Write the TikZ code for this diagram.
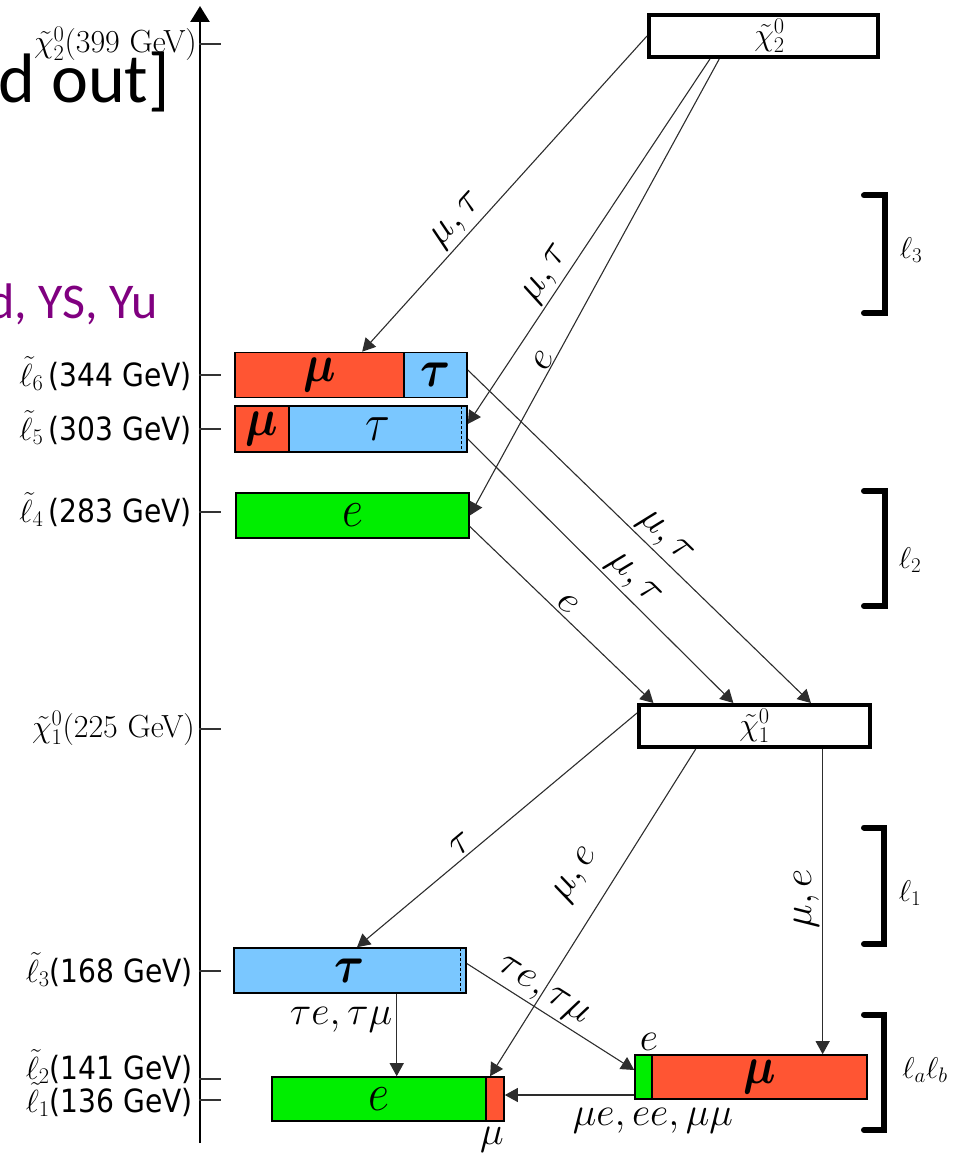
\RequirePackage{fix-cm}
\documentclass[tikz,border=0pt]{standalone}
\usepackage{amsmath}
\usepackage{fontspec}
\usetikzlibrary{arrows.meta,calc}
\newfontfamily\slidefont{Carlito}
\newfontfamily\gevfont[FakeStretch=0.88]{DejaVu Sans}
\definecolor{muRed}{RGB}{255,85,51}
\definecolor{tauBlue}{RGB}{122,199,255}
\definecolor{eGreen}{RGB}{0,238,0}
\definecolor{slidePurple}{RGB}{128,0,128}
\definecolor{wire}{RGB}{45,45,45}
\newcommand{\atsize}[1]{\fontsize{#1}{#1}\selectfont}
\newcommand{\tallglyph}[1]{\scalebox{1}[1.15]{#1}}
\begin{document}
\begin{tikzpicture}[x=1pt,y=-1pt,
  conn/.style={draw=wire,line width=1.1pt,-{Triangle[length=13pt,width=14pt]}},
  part/.style={draw=black,line width=1.6pt,inner sep=0pt,minimum height=45pt,font=\atsize{46}},
  neut/.style={draw=black,fill=white,line width=4pt,inner sep=0pt,minimum height=42pt,font=\atsize{32}},
  levtick/.style={draw=black!80,line width=1.2pt},
  lev/.style={anchor=base east,inner sep=0pt,font=\atsize{32}},
  chan/.style={font=\atsize{40},sloped,pos=#1},
  brk/.style={line width=6pt,line cap=round},
  brklab/.style={font=\atsize{30}},
  lbl/.style={font=\atsize{40},inner sep=0pt},
  dashmark/.style={dash pattern=on 3pt off 2pt,line width=0.8pt}
]
\useasboundingbox (0,0) rectangle (960,1155);

% slide text lying behind the figure
\node[anchor=base east,inner sep=0pt,font=\slidefont\atsize{70}] (slideA) at (170,103) {d out]};
\node[anchor=base east,inner sep=0pt,font=\slidefont\atsize{50},text=slidePurple] (slideB) at (158,318) {d, YS, Yu};

% mass axis
\coordinate (axbot) at (200,1143);
\coordinate (axtop) at (200,6);
\draw[line width=2.5pt,-{Triangle[length=16pt,width=19pt]}] (axbot) -- (axtop);
\foreach \yy in {44,375,429,512,729,971,1079,1100}
  \draw[levtick] (199,\yy) -- (221,\yy);

% level labels
\node[lev] (t399) at (197,53) {$\tilde\chi^0_2$(399 GeV)};
\node[lev] (t344) at (192,386) {$\tilde\ell_6\,${\gevfont(344 GeV)}};
\node[lev] (t303) at (192,440) {$\tilde\ell_5\,${\gevfont(303 GeV)}};
\node[lev] (t283) at (192,522) {$\tilde\ell_4\,${\gevfont(283 GeV)}};
\node[lev] (t225) at (195,737) {$\tilde\chi^0_1$(225 GeV)};
\node[lev] (t168) at (193,982) {$\tilde\ell_3${\gevfont(168 GeV)}};
\node[lev] (t141) at (193,1079) {$\tilde\ell_2${\gevfont(141 GeV)}};
\node[lev] (t136) at (193,1112) {$\tilde\ell_1${\gevfont(136 GeV)}};

% neutralinos
\node[neut,minimum width=229pt] (chi2) at (763.5,36) {\hspace*{12pt}$\tilde\chi^0_2$};
\node[neut,minimum width=231pt] (chi1) at (754.5,726) {$\tilde\chi^0_1$};

% sleptons with their flavour content
\node[part,fill=muRed,minimum width=169pt] (l6mu) at (319.5,375) {\tallglyph{$\boldsymbol{\mu}$}};
\node[part,fill=tauBlue,minimum width=63pt] (l6tau) at (435.5,375) {\tallglyph{$\boldsymbol{\tau}$}};
\node[part,fill=muRed,minimum width=54pt,minimum height=46pt] (l5mu) at (262,429) {\tallglyph{$\boldsymbol{\mu}$}};
\node[part,fill=tauBlue,minimum width=178pt,minimum height=46pt] (l5tau) at (378,429) {\tallglyph{$\tau$}};
\draw[dashmark] ($(l5tau.north east)+(-6,1)$) -- ($(l5tau.south east)+(-6,-1)$);
\node[part,fill=eGreen,minimum width=233pt] (l4) at (352.5,515.5) {\tallglyph{$e$}};
\node[part,fill=tauBlue,minimum width=232pt] (l3) at (350,970.5) {\tallglyph{$\boldsymbol{\tau}$}};
\draw[dashmark] ($(l3.north east)+(-6,1)$) -- ($(l3.south east)+(-6,-1)$);
\node[part,fill=eGreen,minimum width=214pt,minimum height=44pt] (l1e) at (379,1099) {\tallglyph{$e$}};
\node[part,fill=muRed,minimum width=18pt,minimum height=44pt] (l1mu) at (495,1099) {};
\node[part,fill=eGreen,minimum width=17pt,minimum height=44pt] (l2e) at (643.5,1077) {};
\node[part,fill=muRed,minimum width=215pt,minimum height=44pt] (l2mu) at (759.5,1077) {\tallglyph{$\boldsymbol{\mu}$}};
\node[lbl,anchor=south] (l2eTag) at ($(l2e.north)+(5.5,-4)$) {$e$};
\node[lbl,anchor=north] (l1muTag) at ($(l1mu.south)+(-3,5)$) {$\mu$};

% decays
\draw[conn] (chi2.west) -- node[chan=0.62,above]{$\mu,\tau$} ($(l6mu.north west)!0.75!(l6mu.north east)$);
\draw[conn] ($(chi2.south west)!0.27!(chi2.south east)$) -- node[chan=0.615,above]{$\mu,\tau$} ($(l5tau.east)+(0,-5)$);
\draw[conn] ($(chi2.south west)!0.31!(chi2.south east)$) -- node[chan=0.67,above=-3pt]{$e$} (l4.east);
\draw[conn] ($(l6tau.east)+(0,-5)$) -- node[chan=0.54,above]{$\mu,\tau$} ($(chi1.north west)!0.74!(chi1.north east)$);
\draw[conn] ($(l5tau.east)+(0,10)$) -- node[chan=0.58,above]{$\mu,\tau$} ($(chi1.north west)!0.41!(chi1.north east)$);
\draw[conn] ($(l4.east)+(0,11)$) -- node[chan=0.49,above]{$e$} ($(chi1.north west)!0.07!(chi1.north east)$);
\draw[conn] ($(chi1.west)+(0,-13)$) -- node[chan=0.6,above]{$\tau$} ($(l3.north west)!0.53!(l3.north east)$);
\draw[conn] ($(chi1.south west)!0.25!(chi1.south east)$) -- node[chan=0.44,above=17pt]{$\mu,e$} ($(l1mu.north west)!0.25!(l1mu.north east)$);
\coordinate (c9) at ($(chi1.south west)!0.79!(chi1.south east)$);
\draw[conn] (c9) -- node[pos=0.49,rotate=90,anchor=south,font=\atsize{40}]{$\mu,e$} (c9 |- l2mu.north);
\coordinate (c10) at ($(l3.south west)!0.70!(l3.south east)$);
\draw[conn] (c10) -- node[pos=0.32,left=2pt,inner sep=2pt,font=\atsize{40}]{$\tau e,\tau\mu$} (c10 |- l1e.north);
\draw[conn] ($(l3.east)+(0,-7)$) -- node[chan=0.4,above]{$\tau e,\tau\mu$} ($(l2e.west)+(0,-7)$);
\coordinate (c12) at ($(l1mu.east)+(0,-4)$);
\draw[conn] (l2e.west |- c12) -- (c12);
\node[lbl,anchor=north] (llTag) at ($(l2e.south)+(9.5,8)$) {$\mu e, ee, \mu\mu$};

% lepton groupings
\draw[brk] (864,195.5) -- (885,195.5) -- (885,313) -- (864,313);
\node[brklab] (b3) at (911,250) {$\ell_3$};
\draw[brk] (864,491) -- (885,491) -- (885,606) -- (864,606);
\node[brklab] (b2) at (910,560) {$\ell_2$};
\draw[brk] (864,827.5) -- (884,827.5) -- (884,944) -- (864,944);
\node[brklab] (b1) at (910,893) {$\ell_1$};
\draw[brk] (864,1014.5) -- (884,1014.5) -- (884,1130) -- (864,1130);
\node[brklab] (bab) at (925,1070) {$\ell_a\ell_b$};
\end{tikzpicture}
\end{document}
